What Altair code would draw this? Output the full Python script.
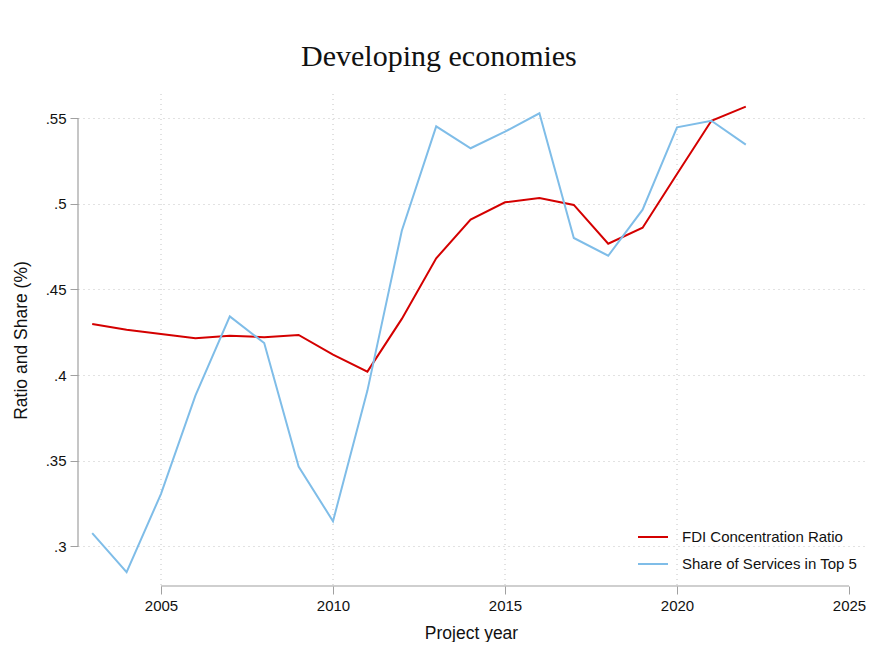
import altair as alt
import pandas as pd

years = list(range(2003, 2023))
fdi_ratio = [0.4298, 0.4265, 0.4240, 0.4215, 0.4230, 0.4221, 0.4234, 0.4119, 0.4020, 0.4328,
             0.4682, 0.4908, 0.5009, 0.5034, 0.4994, 0.4767, 0.4861, 0.5175, 0.5486, 0.5568]
services_share = [0.3076, 0.2848, 0.3306, 0.3880, 0.4343, 0.4187, 0.3465, 0.3146, 0.3909, 0.4843,
                  0.5453, 0.5325, 0.5422, 0.5529, 0.4801, 0.4697, 0.4966, 0.5447, 0.5486, 0.5346]
series_names = ["FDI Concentration Ratio", "Share of Services in Top 5"]
series_colors = ["#d40000", "#7fbde8"]
x_ticks = [2005, 2010, 2015, 2020, 2025]
x_grid = [2005, 2010, 2015, 2020]
y_ticks = [0.3, 0.35, 0.4, 0.45, 0.5, 0.55]
x_domain = [2002.587, 2025.436]
y_domain = [0.27675, 0.5642]

SANS = "Liberation Sans, Arial, sans-serif"
SERIF = "Liberation Serif, Times New Roman, serif"
GRID = "#c4c4c4"

df = pd.DataFrame({
    "year": years * 2,
    "value": fdi_ratio + services_share,
    "series": [series_names[0]] * len(years) + [series_names[1]] * len(years),
})

x_enc = alt.X("year:Q",
              scale=alt.Scale(domain=x_domain, nice=False, zero=False),
              axis=alt.Axis(values=x_ticks, format="d", title="Project year",
                            domain=False, grid=False,
                            tickSize=8, tickColor="#a0a0a0", labelPadding=4,
                            labelFont=SANS, labelFontSize=15, labelColor="#111111",
                            titleFont=SANS, titleFontSize=17.5, titleFontWeight="normal",
                            titleColor="#111111", titlePadding=11, labelFlush=False))
y_enc = alt.Y("value:Q",
              scale=alt.Scale(domain=y_domain, nice=False, zero=False),
              axis=alt.Axis(values=y_ticks, title="Ratio and Share (%)",
                            labelExpr="replace(format(datum.value, '~g'), '0.', '.')",
                            domain=False, grid=True, gridDash=[1, 4], gridColor=GRID,
                            tickSize=8, tickColor="#a0a0a0", labelPadding=4,
                            labelFont=SANS, labelFontSize=15, labelColor="#111111",
                            titleFont=SANS, titleFontSize=17.5, titleFontWeight="normal",
                            titleColor="#111111", titlePadding=15))

vgrid = alt.Chart(pd.DataFrame({"year": x_grid})).mark_rule(
    color=GRID, strokeWidth=1, strokeDash=[1, 4]).encode(x=alt.X("year:Q"))

lines = alt.Chart(df).mark_line(strokeWidth=2).encode(
    x=x_enc,
    y=y_enc,
    color=alt.Color("series:N",
                    scale=alt.Scale(domain=series_names, range=series_colors),
                    legend=alt.Legend(title=None, orient="none", legendX=559, legendY=427,
                                      symbolType="stroke", symbolSize=900, symbolStrokeWidth=2,
                                      labelFont=SANS, labelFontSize=15, labelColor="#111111",
                                      labelOffset=13, rowPadding=3, padding=0, labelLimit=0)),
)

yaxis_line = alt.Chart(pd.DataFrame({"x": [x_domain[0]], "y0": [min(y_ticks)], "y1": [max(y_ticks)]})).mark_rule(
    color="#a0a0a0", strokeWidth=1.2).encode(x=alt.X("x:Q"), y=alt.Y("y0:Q"), y2="y1:Q")
xaxis_line = alt.Chart(pd.DataFrame({"x0": [min(x_ticks)], "x1": [max(x_ticks)], "y": [y_domain[0]]})).mark_rule(
    color="#a0a0a0", strokeWidth=1.2).encode(x=alt.X("x0:Q"), x2="x1:Q", y=alt.Y("y:Q"))

chart = alt.layer(vgrid, yaxis_line, xaxis_line, lines).properties(
    width=786, height=492,
    background="white",
    padding={"left": 4, "top": 33, "right": 0, "bottom": 0},
    title=alt.TitleParams("Developing economies", font=SERIF, fontSize=30, fontWeight="normal",
                          color="#111111", anchor="middle", frame="bounds",
                          baseline="alphabetic", offset=-2),
).configure_view(strokeWidth=0, stroke="transparent")

chart.save("out.html", embed_options={"renderer": "svg", "actions": False})
